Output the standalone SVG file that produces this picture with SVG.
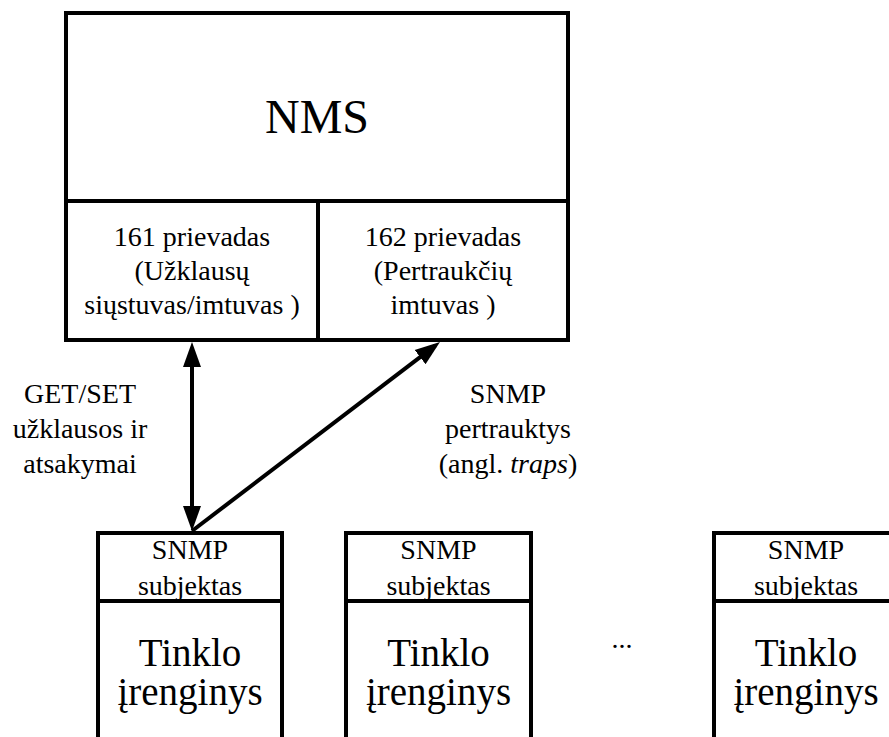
<svg xmlns="http://www.w3.org/2000/svg" width="889" height="737" viewBox="0 0 889 737" font-family="'Liberation Serif', 'DejaVu Serif', serif">
<style>
  .box { fill: #fff; stroke: #000; stroke-width: 4; }
  .ln { fill: none; stroke: #000; stroke-width: 4; }
  text { font-family: "Liberation Serif", "DejaVu Serif", serif; fill: #000; text-anchor: middle; }
  .t28 { font-size: 28px; }
  .t40 { font-size: 39px; }
  .t48 { font-size: 48px; }
  .conn { fill: none; stroke: #000; stroke-width: 4; }
</style>
<defs>
  <marker id="ah" markerUnits="userSpaceOnUse" markerWidth="26" markerHeight="20" viewBox="0 0 26 20" refX="19" refY="10" orient="auto-start-reverse">
    <path d="M0,1 L25,10 L0,19 z" fill="#000"/>
  </marker>
</defs>
<rect width="889" height="737" fill="#fff"/>

<g id="nms">
  <rect class="box" x="66" y="13" width="502" height="327"/>
  <line class="ln" x1="66" y1="201" x2="568" y2="201"/>
  <text class="t48" x="317" y="133">NMS</text>
</g>
<g id="port161">
  <line class="ln" x1="318" y1="201" x2="318" y2="340"/>
  <text class="t28" x="192" y="246">161 prievadas</text>
  <text class="t28" x="192" y="280">(Užklausų</text>
  <text class="t28" x="192" y="314">siųstuvas/imtuvas )</text>
</g>
<g id="port162">
  <text class="t28" x="443" y="246">162 prievadas</text>
  <text class="t28" x="443" y="280">(Pertraukčių</text>
  <text class="t28" x="443" y="314">imtuvas )</text>
</g>

<g id="device1">
  <path class="box" d="M98,745 V533 H282 V745"/>
  <line class="ln" x1="98" y1="601" x2="282" y2="601"/>
  <text class="t28" x="190" y="559">SNMP</text>
  <text class="t28" x="190" y="595">subjektas</text>
  <text class="t40" x="190" y="666">Tinklo</text>
  <text class="t40" x="190" y="705">įrenginys</text>
</g>
<g id="device2">
  <path class="box" d="M346,745 V533 H531 V745"/>
  <line class="ln" x1="346" y1="601" x2="531" y2="601"/>
  <text class="t28" x="438.5" y="559">SNMP</text>
  <text class="t28" x="438.5" y="595">subjektas</text>
  <text class="t40" x="438.5" y="666">Tinklo</text>
  <text class="t40" x="438.5" y="705">įrenginys</text>
</g>
<g id="ellipsis">
  <text class="t28" x="622" y="648">...</text>
</g>
<g id="device3">
  <path class="box" d="M714,745 V533 H898 V745"/>
  <line class="ln" x1="714" y1="601" x2="898" y2="601"/>
  <text class="t28" x="806" y="559">SNMP</text>
  <text class="t28" x="806" y="595">subjektas</text>
  <text class="t40" x="806" y="666">Tinklo</text>
  <text class="t40" x="806" y="705">įrenginys</text>
</g>

<g id="connectors">
  <line class="conn" x1="192" y1="348" x2="192" y2="525" marker-start="url(#ah)" marker-end="url(#ah)"/>
  <line class="conn" x1="192" y1="531" x2="435.2" y2="345.6" marker-end="url(#ah)"/>
</g>
<g id="labels">
  <text class="t28" x="80" y="403">GET/SET</text>
  <text class="t28" x="80" y="438">užklausos ir</text>
  <text class="t28" x="80" y="473">atsakymai</text>
  <text class="t28" x="508" y="403">SNMP</text>
  <text class="t28" x="508" y="438">pertrauktys</text>
  <text class="t28" x="508" y="473">(angl. <tspan font-style="italic">traps</tspan>)</text>
</g>
</svg>
